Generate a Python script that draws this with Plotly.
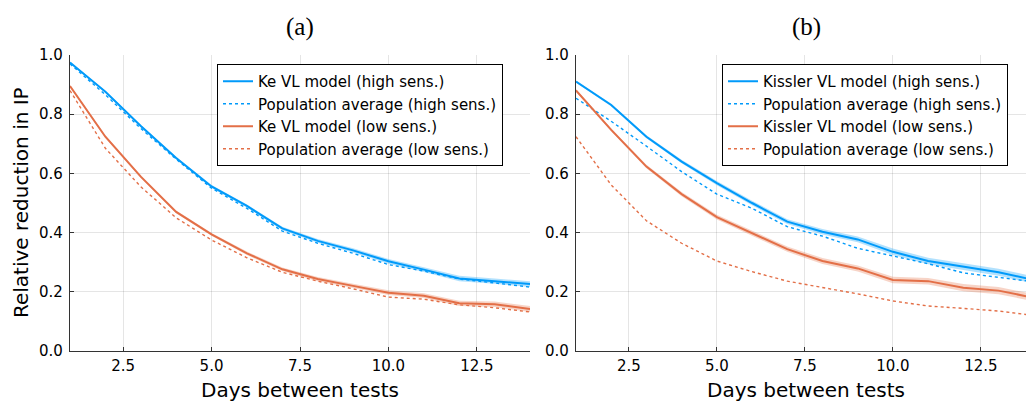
import plotly.graph_objects as go

days = list(range(1, 15))

# Panel (a): Ke VL model
ke_high = [0.975, 0.876, 0.76, 0.652, 0.556, 0.49, 0.414, 0.372, 0.34, 0.303, 0.275, 0.245, 0.236, 0.226]
ke_high_band = [0.003, 0.003, 0.004, 0.004, 0.005, 0.005, 0.006, 0.006, 0.007, 0.008, 0.008, 0.009, 0.009, 0.01]
pop_high_a = [0.97, 0.866, 0.752, 0.648, 0.55, 0.482, 0.405, 0.364, 0.33, 0.292, 0.27, 0.243, 0.23, 0.216]
ke_low = [0.895, 0.724, 0.589, 0.47, 0.394, 0.33, 0.276, 0.243, 0.22, 0.197, 0.187, 0.161, 0.158, 0.142]
ke_low_band = [0.003, 0.004, 0.004, 0.005, 0.005, 0.006, 0.006, 0.007, 0.007, 0.008, 0.008, 0.009, 0.009, 0.01]
pop_low_a = [0.88, 0.685, 0.555, 0.45, 0.375, 0.315, 0.266, 0.236, 0.21, 0.182, 0.175, 0.156, 0.146, 0.132]

# Panel (b): Kissler VL model
ki_high = [0.91, 0.831, 0.724, 0.64, 0.567, 0.50, 0.437, 0.403, 0.377, 0.335, 0.304, 0.285, 0.266, 0.24]
ki_high_band = [0.004, 0.004, 0.005, 0.006, 0.007, 0.008, 0.008, 0.009, 0.01, 0.011, 0.011, 0.012, 0.012, 0.012]
pop_high_b = [0.854, 0.776, 0.692, 0.606, 0.53, 0.482, 0.42, 0.388, 0.347, 0.322, 0.295, 0.264, 0.25, 0.234]
ki_low = [0.88, 0.747, 0.623, 0.53, 0.452, 0.398, 0.344, 0.304, 0.279, 0.24, 0.236, 0.214, 0.204, 0.18]
ki_low_band = [0.004, 0.005, 0.006, 0.007, 0.008, 0.008, 0.009, 0.01, 0.01, 0.011, 0.011, 0.012, 0.012, 0.012]
pop_low_b = [0.724, 0.561, 0.44, 0.364, 0.304, 0.268, 0.236, 0.215, 0.193, 0.169, 0.152, 0.144, 0.135, 0.12]

x_ticks = [2.5, 5.0, 7.5, 10.0, 12.5]
y_ticks = [0.0, 0.2, 0.4, 0.6, 0.8, 1.0]

BLUE = "#009AFA"
ORANGE = "#E36F47"
BLUE_FILL = "rgba(0,154,250,0.3)"
ORANGE_FILL = "rgba(227,111,71,0.3)"

fig = go.Figure()


def ribbon(x, y, band, fill, xa, ya):
    lo = [v - b for v, b in zip(y, band)]
    hi = [v + b for v, b in zip(y, band)]
    fig.add_trace(go.Scatter(x=x, y=lo, mode="lines", line=dict(width=0, color=fill),
                             showlegend=False, hoverinfo="skip", xaxis=xa, yaxis=ya))
    fig.add_trace(go.Scatter(x=x, y=hi, mode="lines", line=dict(width=0, color=fill),
                             fill="tonexty", fillcolor=fill, showlegend=False,
                             hoverinfo="skip", xaxis=xa, yaxis=ya))


def panel(xa, ya, leg, name, hi, hib, phi, lo, lob, plo):
    ribbon(days, hi, hib, BLUE_FILL, xa, ya)
    ribbon(days, lo, lob, ORANGE_FILL, xa, ya)
    fig.add_trace(go.Scatter(x=days, y=hi, mode="lines", name=f"{name} VL model (high sens.)",
                             line=dict(color=BLUE, width=2), xaxis=xa, yaxis=ya, legend=leg))
    fig.add_trace(go.Scatter(x=days, y=phi, mode="lines", name="Population average (high sens.)",
                             line=dict(color=BLUE, width=1.4, dash="dot"), xaxis=xa, yaxis=ya, legend=leg))
    fig.add_trace(go.Scatter(x=days, y=lo, mode="lines", name=f"{name} VL model (low sens.)",
                             line=dict(color=ORANGE, width=2), xaxis=xa, yaxis=ya, legend=leg))
    fig.add_trace(go.Scatter(x=days, y=plo, mode="lines", name="Population average (low sens.)",
                             line=dict(color=ORANGE, width=1.4, dash="dot"), xaxis=xa, yaxis=ya, legend=leg))


panel("x", "y", "legend", "Ke", ke_high, ke_high_band, pop_high_a, ke_low, ke_low_band, pop_low_a)
panel("x2", "y2", "legend2", "Kissler", ki_high, ki_high_band, pop_high_b, ki_low, ki_low_band, pop_low_b)

W, H = 1026, 402
y_dom = [(H - 351) / H, (H - 55) / H]
axis_common = dict(showgrid=True, gridcolor="rgba(0,0,0,0.1)", gridwidth=1, zeroline=False,
                   showline=True, linecolor="#333333", linewidth=1.2, ticks="inside", ticklen=4,
                   tickcolor="#333333", automargin=False,
                   tickfont=dict(family="DejaVu Sans", size=15, color="black"))

xfmt = dict(tickvals=x_ticks, ticktext=[f"{v:.1f}" for v in x_ticks], ticklabelstandoff=1)
yfmt = dict(tickvals=y_ticks, ticktext=[f"{v:.1f}" for v in y_ticks], ticklabelstandoff=3)

legend_common = dict(yanchor="top", xanchor="left", xref="paper", yref="paper",
                     bgcolor="white", bordercolor="black", borderwidth=1,
                     font=dict(family="DejaVu Sans", size=15, color="black"),
                     tracegroupgap=0, itemwidth=30, traceorder="normal")

fig.update_layout(
    width=W, height=H, autosize=False, margin=dict(l=0, r=0, t=0, b=0, pad=0),
    paper_bgcolor="white", plot_bgcolor="white",
    xaxis=dict(domain=[70 / W, 530 / W], range=[1, 14], anchor="y", **xfmt, **axis_common),
    yaxis=dict(domain=y_dom, range=[0, 1], anchor="x", **yfmt, **axis_common),
    xaxis2=dict(domain=[576 / W, 1.0], range=[1, 13.78], anchor="y2", **xfmt, **axis_common),
    yaxis2=dict(domain=y_dom, range=[0, 1], anchor="x2", **yfmt, **axis_common),
    legend=dict(x=217 / W, y=1 - 64 / H, **legend_common),
    legend2=dict(x=722 / W, y=1 - 64 / H, **legend_common),
    showlegend=True,
)

title_font = dict(family="Liberation Serif", size=25, color="black")
label_font = dict(family="DejaVu Sans", size=20, color="black")
annotations = [
    dict(text="(a)", x=300 / W, y=1 - 27 / H, font=title_font),
    dict(text="(b)", x=806 / W, y=1 - 27 / H, font=title_font),
    dict(text="Days between tests", x=300 / W, y=1 - 390 / H, font=label_font),
    dict(text="Days between tests", x=806 / W, y=1 - 390 / H, font=label_font),
    dict(text="Relative reduction in IP", x=21 / W, y=1 - 203 / H, textangle=-90, font=label_font),
]
for a in annotations:
    a.update(xref="paper", yref="paper", showarrow=False, xanchor="center", yanchor="middle")
fig.update_layout(annotations=annotations)

fig.write_html("out.html")
